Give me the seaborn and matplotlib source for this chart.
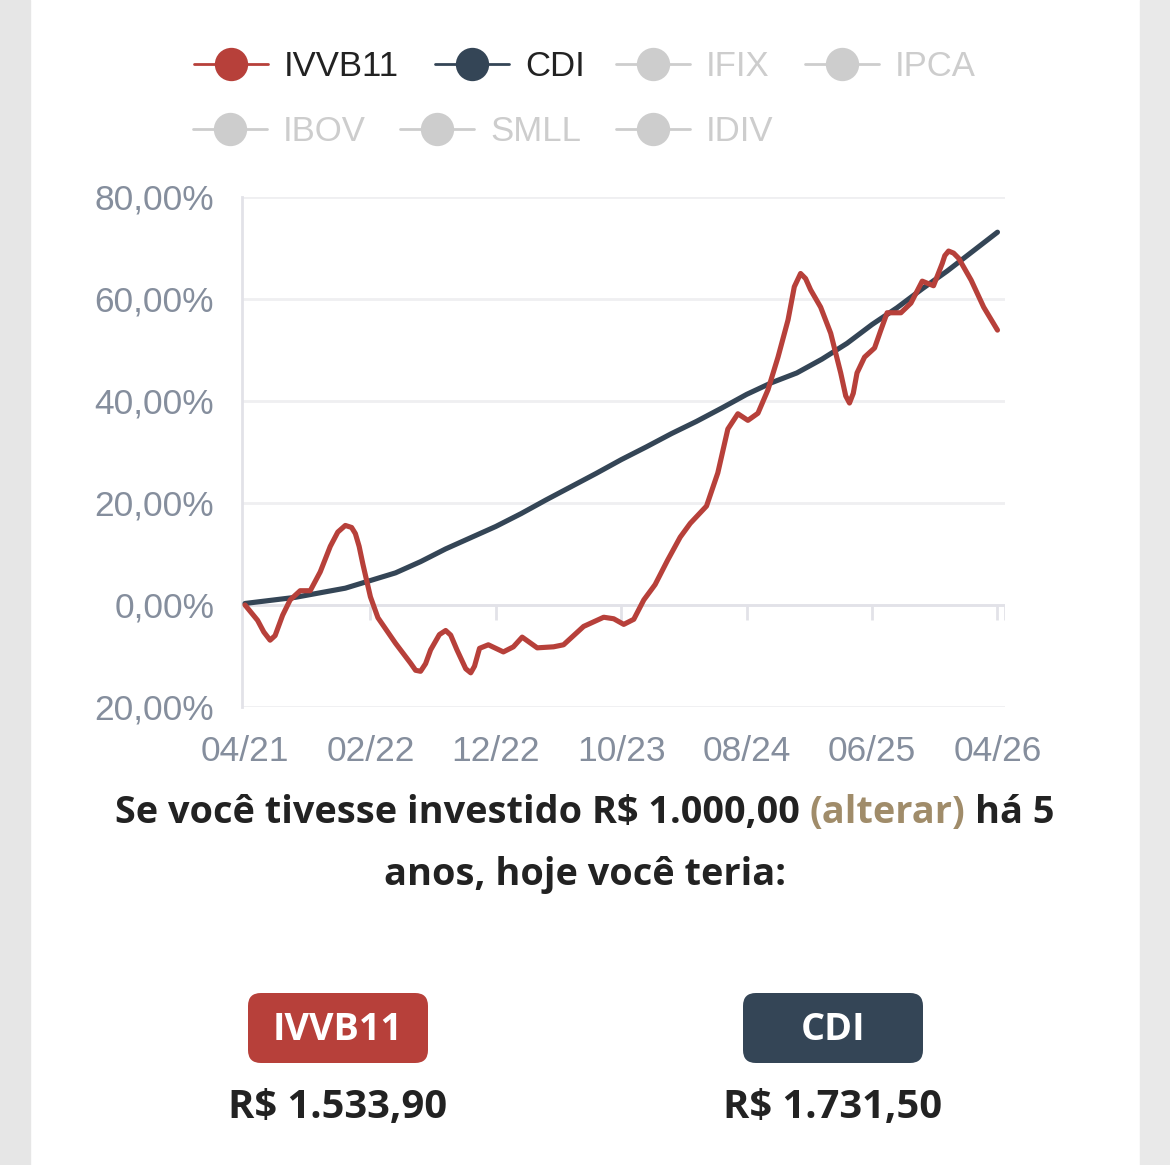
import matplotlib
matplotlib.use('Agg')
import matplotlib.pyplot as plt
from matplotlib.lines import Line2D
from matplotlib.patches import Rectangle, FancyBboxPatch
import pandas as pd
import seaborn as sns

# Rentabilidade acumulada (%), x = meses desde 04/21
meses_ivvb = [0, 1, 1.5, 2, 2.4, 3, 3.6, 4.4, 5.2, 6, 6.8, 7.4, 8, 8.5, 8.8, 9.1, 9.4,
              10, 10.6, 12, 13.2, 13.6, 14, 14.4, 14.8, 15.5, 16, 16.4, 16.9, 17.6, 18,
              18.3, 18.7, 19.4, 20.6, 21.4, 22.1, 23.3, 24.6, 25.4, 27, 28.6, 29.4,
              30.2, 31, 31.8, 32.7, 33.7, 34.7, 35.5, 36.8, 37.7, 38.5, 39.3, 40.1,
              40.9, 41.7, 42.5, 43.3, 43.8, 44.3, 44.7, 45.1, 45.9, 46.7, 47.5, 47.9,
              48.2, 48.5, 48.8, 49.4, 50.2, 50.7, 51.2, 52.3, 53.1, 54, 54.9, 55.6,
              55.8, 56.1, 56.5, 56.9, 57.9, 58.9, 60]
ivvb11 = [0, -3, -5.3, -6.9, -6, -2, 1, 2.8, 2.8, 6.5, 11.5, 14.3, 15.6, 15.2, 14, 11.5,
          8, 1.6, -2.5, -7.5, -11.4, -12.8, -13, -11.5, -8.8, -5.8, -5, -5.9, -8.8,
          -12.5, -13.3, -12, -8.5, -7.8, -9.2, -8.2, -6.3, -8.4, -8.2, -7.8, -4.2,
          -2.4, -2.7, -3.8, -2.8, 1, 4, 8.8, 13.3, 16, 19.4, 25.9, 34.5, 37.5, 36.2,
          37.6, 42.2, 48.6, 55.9, 62.4, 65, 64, 61.8, 58.4, 53.3, 45.5, 41, 39.6,
          41.5, 45.5, 48.6, 50.4, 53.9, 57.3, 57.3, 59.2, 63.5, 62.6, 67, 68.5, 69.4,
          69, 68, 63.7, 58.4, 53.9]

meses_cdi = [0, 4, 8, 10, 12, 14, 16, 18, 20, 22, 24, 26, 28, 30, 32, 34, 36, 38, 40,
             42, 44, 46, 48, 50, 52, 54, 56, 58, 60]
cdi = [0.3, 1.5, 3.3, 4.8, 6.3, 8.5, 11, 13.2, 15.4, 17.9, 20.6, 23.2, 25.8, 28.5, 31,
       33.6, 36, 38.6, 41.3, 43.6, 45.5, 48.2, 51.3, 55, 58.3, 62, 65.5, 69.3, 73.1]

tick_meses = [0, 10, 20, 30, 40, 50, 60]
tick_labels = ['04/21', '02/22', '12/22', '10/23', '08/24', '06/25', '04/26']
y_ticks = [-20, 0, 20, 40, 60, 80]
y_labels = ['20,00%', '0,00%', '20,00%', '40,00%', '60,00%', '80,00%']

ativos = ['IVVB11', 'CDI']
inativos = ['IFIX', 'IPCA', 'IBOV', 'SMLL', 'IDIV']
valores_finais = ['R$ 1.533,90', 'R$ 1.731,50']

VERMELHO = '#b7403a'
AZUL = '#344556'
CINZA_TXT = '#858e9d'
CINZA_OFF = '#cdcdcd'
GRADE = '#efeff1'
EIXO = '#e2e2e8'
TEXTO = '#222222'
BEGE = '#a08c6a'

W, H = 1170, 1165

sns.set_theme(style='white')
plt.rcParams['font.family'] = ['Liberation Sans', 'DejaVu Sans']


def fx(x):
    return x / W


def fy(y):
    return 1 - y / H


fig = plt.figure(figsize=(W / 100, H / 100), dpi=100)
fig.patch.set_facecolor('white')
renderer = fig.canvas.get_renderer()
fonte = ['Open Sans', 'DejaVu Sans']


def largura(txt, tam):
    t = fig.text(0, 0, txt, fontsize=tam, fontweight='bold', family=fonte)
    w = t.get_window_extent(renderer).width
    t.remove()
    return w


def ajusta(txt, alvo):
    # tamanho de fonte que deixa o texto com a largura alvo (px)
    return 20 * alvo / largura(txt, 20)


# faixas cinzas laterais
fig.add_artist(Rectangle((0, 0), fx(30), 1, transform=fig.transFigure, color='#e6e6e6', zorder=0))
fig.add_artist(Rectangle((fx(1140), 0), 1 - fx(1140), 1, transform=fig.transFigure, color='#e9e9e9', zorder=0))

ax = fig.add_axes([fx(242), fy(707), fx(1005) - fx(242), fy(197) - fy(707)])
ax.set_facecolor('none')

df_ivvb = pd.DataFrame({'mes': meses_ivvb, 'valor': ivvb11})
df_cdi = pd.DataFrame({'mes': meses_cdi, 'valor': cdi})

sns.lineplot(data=df_cdi, x='mes', y='valor', color=AZUL, linewidth=3.7, ax=ax,
             solid_capstyle='round', solid_joinstyle='round', zorder=3)
sns.lineplot(data=df_ivvb, x='mes', y='valor', color=VERMELHO, linewidth=3.7, ax=ax,
             solid_capstyle='round', solid_joinstyle='round', zorder=4)

xmax = 60.6
ax.set_xlim(-0.24, xmax)
ax.set_ylim(-20, 80)
ax.set_xlabel('')
ax.set_ylabel('')

ax.set_yticks(y_ticks, y_labels)
ax.set_xticks(tick_meses, tick_labels)
ax.yaxis.grid(True, color=GRADE, linewidth=2)
ax.xaxis.grid(False)
ax.axhline(0, color=EIXO, linewidth=2, zorder=1)
ax.vlines(tick_meses[1:] + [xmax], -3, 0, color=EIXO, linewidth=2, zorder=1)

ax.tick_params(axis='y', length=12, width=2, color=GRADE, pad=8, labelsize=25.5, labelcolor=CINZA_TXT)
ax.tick_params(axis='x', length=0, pad=20, labelsize=25.5, labelcolor=CINZA_TXT)
for s in ['top', 'right', 'bottom']:
    ax.spines[s].set_visible(False)
ax.spines['left'].set_color(EIXO)
ax.spines['left'].set_linewidth(2)

# legenda
legenda = [(ativos[0], VERMELHO, TEXTO, 231, 64), (ativos[1], AZUL, TEXTO, 472, 64),
           (inativos[0], CINZA_OFF, CINZA_OFF, 653, 64), (inativos[1], CINZA_OFF, CINZA_OFF, 842, 64),
           (inativos[2], CINZA_OFF, CINZA_OFF, 230, 129), (inativos[3], CINZA_OFF, CINZA_OFF, 437, 129),
           (inativos[4], CINZA_OFF, CINZA_OFF, 653, 129)]
for nome, cor, cor_txt, cx, cy in legenda:
    fig.add_artist(Line2D([fx(cx - 37), fx(cx + 37)], [fy(cy), fy(cy)], transform=fig.transFigure,
                          color=cor, linewidth=2))
    fig.add_artist(Line2D([fx(cx)], [fy(cy)], transform=fig.transFigure, marker='o',
                          markersize=24, color=cor, markeredgewidth=0))
    fig.text(fx(cx + 53), fy(cy + 12), nome, fontsize=25, color=cor_txt, va='baseline', ha='left')

# texto inferior
partes = [('Se você tivesse investido R$ 1.000,00', TEXTO), ('(alterar)', BEGE), ('há 5', TEXTO)]
tams = ajusta('Se você tivesse investido R$ 1.000,00 (alterar) há 5', 940)
objs = []
for txt, cor in partes:
    objs.append(fig.text(0, fy(823), txt, fontsize=tams, fontweight='bold', family=fonte,
                         color=cor, va='baseline', ha='left'))
larguras = [o.get_window_extent(renderer).width for o in objs]
esp = largura('a a', tams) - largura('aa', tams)
total = sum(larguras) + 2 * esp
x0 = 585 - total / 2
for o, w in zip(objs, larguras):
    o.set_x(fx(x0))
    x0 += w + esp

fig.text(fx(585), fy(885), 'anos, hoje você teria:', fontsize=tams, fontweight='bold',
         family=fonte, color=TEXTO, va='baseline', ha='center')

# selos com valores finais
tam_valor = ajusta(valores_finais[0], 219)
tam_selo = ajusta(ativos[0], 130)
for nome, cor, cx, valor in [(ativos[0], VERMELHO, 338, valores_finais[0]),
                             (ativos[1], AZUL, 833, valores_finais[1])]:
    fig.add_artist(FancyBboxPatch((fx(cx - 90), fy(1063)), fx(180), fy(993) - fy(1063),
                                  boxstyle='round,pad=0,rounding_size=0.011',
                                  transform=fig.transFigure, facecolor=cor, edgecolor='none',
                                  mutation_aspect=W / H))
    fig.text(fx(cx), fy(1040), nome, fontsize=tam_selo, fontweight='bold', family=fonte,
             color='white', va='baseline', ha='center')
    fig.text(fx(cx), fy(1118), valor, fontsize=tam_valor, fontweight='bold', family=fonte,
             color=TEXTO, va='baseline', ha='center')

fig.savefig('out.png', dpi=100, facecolor='white')
